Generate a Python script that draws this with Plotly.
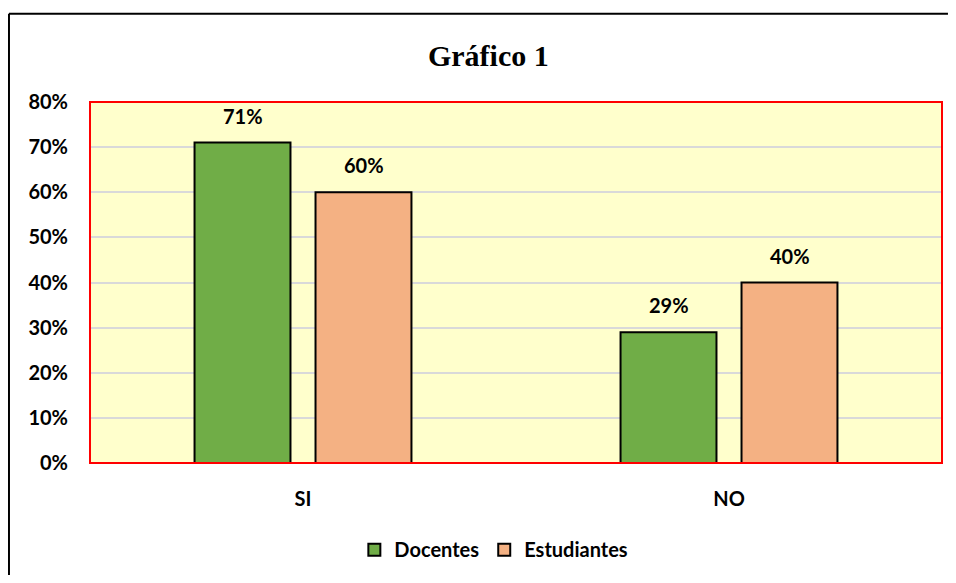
import plotly.graph_objects as go

categories = ["SI", "NO"]
docentes = [0.71, 0.29]
estudiantes = [0.60, 0.40]
series = [("Docentes", docentes, "#70ad47"), ("Estudiantes", estudiantes, "#f4b183")]
y_ticks = [i / 10 for i in range(9)]

FONT = "Lato"
BLACK = "black"

fig = go.Figure()

for name, vals, color in series:
    fig.add_trace(go.Bar(
        x=categories, y=vals, name=f"<b>{name}</b>",
        marker=dict(color=color, line=dict(color=BLACK, width=2)),
    ))

#data labels above the bars (group offset in px)
annotations = []
for i, (name, vals, color) in enumerate(series):
    shift = -60.5 if i == 0 else 60.5
    for cat, v in zip(categories, vals):
        annotations.append(dict(
            x=cat, y=v, xref="x", yref="y", xshift=shift, yshift=13,
            yanchor="bottom", showarrow=False, text=f"<b>{v:.0%}</b>",
            font=dict(family=FONT, size=20, color=BLACK)
        ))

#outer frame (only left + top edges are in view) + red border round the plot area
shapes = [
    dict(type="line", xref="paper", yref="paper", x0=-0.0951, x1=-0.0951, y0=-0.6, y1=1.2445,
         line=dict(color=BLACK, width=2), layer="above"),
    dict(type="line", xref="paper", yref="paper", x0=-0.0951, x1=1.007, y0=1.2445, y1=1.2445,
         line=dict(color=BLACK, width=2), layer="above"),
    dict(type="rect", xref="paper", yref="paper", x0=0, x1=1, y0=0, y1=1,
         line=dict(color="red", width=2), fillcolor="rgba(0,0,0,0)", layer="above"),
]

fig.update_layout(
    width=940, height=567,
    margin=dict(l=82, r=6, t=94, b=108),
    paper_bgcolor="white", plot_bgcolor="#ffffcc",
    title=dict(text="<b>Gráfico 1</b>", x=0.511, xanchor="center", y=0.917, yanchor="middle",
               font=dict(family="Liberation Serif", size=30, color=BLACK)),
    barmode="group", bargap=0.432, bargroupgap=0.207,
    xaxis=dict(tickvals=categories, ticktext=[f"<b>{c}</b>" for c in categories],
               tickfont=dict(family=FONT, size=20, color=BLACK), showline=False,
               ticks="", ticklabelstandoff=22),
    yaxis=dict(range=[0, 0.8], tickvals=y_ticks,
               ticktext=[f"<b>{t:.0%}</b>" for t in y_ticks],
               showgrid=True, gridcolor="#d9d9d9", gridwidth=2, zeroline=False,
               tickfont=dict(family=FONT, size=20, color=BLACK), ticks="", ticklabelstandoff=21),
    legend=dict(orientation="h", x=0.474, xanchor="center", y=-0.24, yanchor="middle",
                font=dict(family=FONT, size=20, color=BLACK), traceorder="normal",
                itemwidth=30),
    annotations=annotations,
    shapes=shapes,
    showlegend=True,
)

fig.write_html("out.html")
